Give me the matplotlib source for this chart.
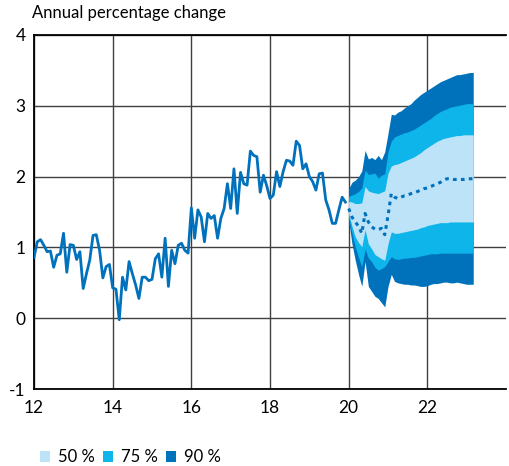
import matplotlib
matplotlib.use("Agg")
import matplotlib.pyplot as plt
from matplotlib.patches import Patch
import numpy as np

plt.rcParams['font.family'] = ['Lato', 'DejaVu Sans']

# Historical monthly data, Jan 2012 - Dec 2019
hist = [
    0.86, 1.08, 1.11, 1.03, 0.94, 0.95, 0.72, 0.89, 0.91, 1.20, 0.65, 1.04,
    1.03, 0.83, 0.94, 0.42, 0.63, 0.82, 1.17, 1.18, 0.96, 0.57, 0.73, 0.76,
    0.43, 0.41, -0.02, 0.58, 0.40, 0.80, 0.63, 0.47, 0.28, 0.58, 0.58, 0.53,
    0.55, 0.84, 0.91, 0.58, 1.13, 0.45, 0.96, 0.77, 1.03, 1.06, 0.96, 0.92,
    1.56, 1.13, 1.53, 1.43, 1.08, 1.48, 1.41, 1.45, 1.13, 1.41, 1.55, 1.90,
    1.55, 2.11, 1.48, 2.06, 1.90, 1.88, 2.36, 2.30, 2.28, 1.78, 2.02, 1.87,
    1.69, 1.74, 2.07, 1.86, 2.07, 2.23, 2.22, 2.16, 2.50, 2.44, 2.11, 2.18,
    2.00, 1.93, 1.81, 2.04, 2.05, 1.67, 1.53, 1.34, 1.34, 1.53, 1.71, 1.64,
]

# Forecast fan, monthly Jan 2020 - Mar 2023
median = [1.55, 1.43, 1.36, 1.30, 1.20, 1.48, 1.36, 1.29, 1.26, 1.25, 1.27, 1.18,
          1.45, 1.76, 1.71, 1.69, 1.71, 1.73, 1.74, 1.76, 1.77, 1.79, 1.81, 1.83,
          1.84, 1.86, 1.88, 1.90, 1.92, 1.95, 1.97, 1.97, 1.96, 1.96, 1.96, 1.96,
          1.97, 1.97, 1.97]
up90 = [1.83, 1.92, 1.95, 2.00, 2.08, 2.37, 2.25, 2.27, 2.24, 2.30, 2.24, 2.35,
        2.61, 2.88, 2.87, 2.91, 2.93, 2.97, 3.00, 3.03, 3.08, 3.12, 3.16, 3.19,
        3.22, 3.25, 3.28, 3.31, 3.34, 3.36, 3.38, 3.40, 3.42, 3.44, 3.44, 3.45,
        3.46, 3.47, 3.47]
up75 = [1.72, 1.74, 1.76, 1.79, 1.84, 2.09, 2.03, 2.04, 2.05, 1.98, 2.02, 2.04,
        2.35, 2.50, 2.56, 2.58, 2.60, 2.62, 2.63, 2.65, 2.67, 2.70, 2.73, 2.76,
        2.79, 2.82, 2.86, 2.89, 2.92, 2.94, 2.96, 2.98, 2.99, 3.00, 3.01, 3.02,
        3.03, 3.03, 3.03]
up50 = [1.65, 1.64, 1.62, 1.62, 1.63, 1.86, 1.80, 1.78, 1.77, 1.76, 1.78, 1.80,
        2.05, 2.15, 2.17, 2.18, 2.20, 2.22, 2.24, 2.26, 2.28, 2.31, 2.34, 2.38,
        2.41, 2.44, 2.47, 2.50, 2.52, 2.54, 2.55, 2.56, 2.57, 2.58, 2.58, 2.59,
        2.59, 2.59, 2.59]
lo50 = [1.48, 1.30, 1.15, 1.07, 1.01, 1.25, 1.05, 0.98, 0.90, 0.87, 0.84, 0.82,
        1.05, 1.22, 1.20, 1.20, 1.21, 1.22, 1.23, 1.24, 1.25, 1.26, 1.28, 1.29,
        1.31, 1.32, 1.33, 1.34, 1.35, 1.35, 1.35, 1.36, 1.36, 1.36, 1.36, 1.36,
        1.36, 1.36, 1.36]
lo75 = [1.43, 1.20, 1.01, 0.86, 0.73, 0.98, 0.85, 0.80, 0.72, 0.68, 0.70, 0.73,
        0.80, 0.87, 0.84, 0.83, 0.84, 0.85, 0.85, 0.86, 0.86, 0.87, 0.88, 0.89,
        0.90, 0.91, 0.91, 0.91, 0.92, 0.92, 0.92, 0.92, 0.92, 0.92, 0.92, 0.92,
        0.92, 0.92, 0.92]
lo90 = [1.38, 1.05, 0.82, 0.62, 0.45, 0.80, 0.45, 0.38, 0.31, 0.28, 0.22, 0.16,
        0.45, 0.62, 0.52, 0.50, 0.49, 0.48, 0.48, 0.47, 0.47, 0.46, 0.45, 0.45,
        0.46, 0.48, 0.49, 0.49, 0.50, 0.51, 0.51, 0.50, 0.50, 0.51, 0.50, 0.49,
        0.48, 0.48, 0.48]

xticks = [12, 14, 16, 18, 20, 22]
yticks = [-1, 0, 1, 2, 3, 4]
legend_labels = ['50 %', '75 %', '90 %']

c_light = '#bde3f8'
c_mid = '#0db5eb'
c_dark = '#0072bc'
c_line = '#0071bc'

t_hist = 12 + np.arange(len(hist)) / 12.0
t_fan = 20 + np.arange(len(median)) / 12.0

fig = plt.figure(figsize=(5.10, 4.66), dpi=100)
ax = fig.add_axes([0.0667, 0.165, 0.9255, 0.760])

ax.fill_between(t_fan, lo90, up90, color=c_dark, lw=0, zorder=2)
ax.fill_between(t_fan, lo75, up75, color=c_mid, lw=0, zorder=3)
ax.fill_between(t_fan, lo50, up50, color=c_light, lw=0, zorder=4)
ax.plot(t_fan, median, color=c_dark, lw=2.2, ls=(0, (1.2, 1.4)), zorder=5)
ax.plot(t_hist, hist, color=c_line, lw=2.0, zorder=5)

ax.set_xlim(12, 24)
ax.set_ylim(-1, 4)
ax.set_xticks(xticks)
ax.set_yticks(yticks)
ax.set_xticklabels([str(v) for v in xticks])
ax.set_yticklabels([str(v) for v in yticks])
ax.tick_params(length=0, labelsize=12.5, colors='black')
ax.tick_params(axis='x', pad=8)
ax.tick_params(axis='y', pad=6)
ax.grid(True, color='#404040', lw=1.0, zorder=1)
ax.set_axisbelow(True)
for s in ['left', 'top', 'bottom']:
    ax.spines[s].set_color('black')
    ax.spines[s].set_linewidth(1.3)
ax.spines['right'].set_visible(False)

fig.text(0.063, 0.972, 'Annual percentage change', fontsize=12, ha='left', va='center')

handles = [Patch(facecolor=c, edgecolor='none') for c in (c_light, c_mid, c_dark)]
fig.legend(handles, legend_labels, loc='lower left', bbox_to_anchor=(0.049, -0.030),
           ncol=3, frameon=False, fontsize=12, handlelength=0.62, handleheight=0.62,
           handletextpad=0.45, columnspacing=0.5)

fig.savefig('out.png', dpi=100)
